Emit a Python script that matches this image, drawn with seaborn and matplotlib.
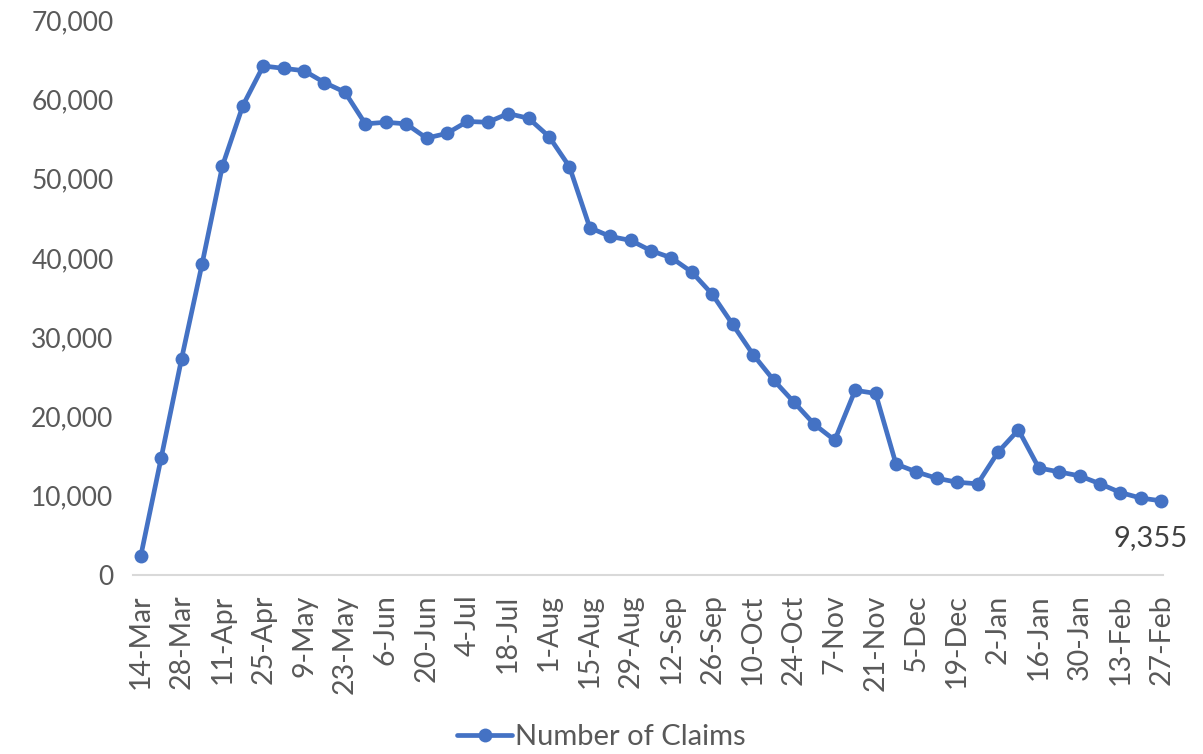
import matplotlib
matplotlib.use("Agg")
import matplotlib.pyplot as plt
import seaborn as sns
import pandas as pd
from matplotlib.ticker import FuncFormatter

claims = [2420, 14800, 27300, 39200, 51600, 59200, 64200, 63900, 63600, 62100,
          60900, 56900, 57100, 56900, 55100, 55700, 57200, 57100, 58200, 57600,
          55300, 51500, 43800, 42700, 42200, 40900, 40000, 38200, 35400, 31600,
          27800, 24600, 21800, 19000, 17000, 23300, 22900, 14000, 13000, 12200,
          11700, 11500, 15500, 18300, 13500, 13000, 12500, 11500, 10400, 9700,
          9355]
tick_labels = ["14-Mar", "28-Mar", "11-Apr", "25-Apr", "9-May", "23-May", "6-Jun",
               "20-Jun", "4-Jul", "18-Jul", "1-Aug", "15-Aug", "29-Aug", "12-Sep",
               "26-Sep", "10-Oct", "24-Oct", "7-Nov", "21-Nov", "5-Dec", "19-Dec",
               "2-Jan", "16-Jan", "30-Jan", "13-Feb", "27-Feb"]
series_name = "Number of Claims"
last_label = "9,355"

df = pd.DataFrame({"week": range(len(claims)), "claims": claims})

sns.set_theme(style="white")
plt.rcParams['font.family'] = ['Lato', 'DejaVu Sans']

fig = plt.figure(figsize=(12.03, 7.54), dpi=100)
ax = fig.add_axes([0.1106, 0.2374, 0.8561, 0.7361])

blue = "#4472C4"
sns.lineplot(data=df, x="week", y="claims", ax=ax, color=blue, linewidth=3.4,
             marker="o", markersize=10, markeredgewidth=0, label=series_name,
             legend=False)
for ln in ax.lines:
    ln.set_clip_on(False)

ax.set_ylim(0, 70000)
ax.set_xlim(-0.38, 50.08)
ax.set_yticks(range(0, 70001, 10000))
ax.yaxis.set_major_formatter(FuncFormatter(lambda v, p: f"{int(v):,}"))
ax.set_xticks(range(0, len(claims), 2))
ax.set_xticklabels(tick_labels, rotation=90)
ax.tick_params(axis="both", colors="#595959", length=0)
ax.tick_params(axis="y", labelsize=19, pad=14)
ax.tick_params(axis="x", labelsize=20.5, pad=14)
ax.set_xlabel("")
ax.set_ylabel("")
for s in ["top", "right", "left"]:
    ax.spines[s].set_visible(False)
ax.spines["bottom"].set_color("#D9D9D9")
ax.spines["bottom"].set_linewidth(1.5)

ax.annotate(last_label, xy=(len(claims) - 1, claims[-1]), xytext=(-8, -27),
            textcoords="offset points", ha="center", va="center",
            fontsize=21, color="#404040")

handles, labels = ax.get_legend_handles_labels()
fig.legend(handles, labels, loc="center", bbox_to_anchor=(0.5, 0.022),
           frameon=False, fontsize=21, labelcolor="#595959",
           handlelength=1.9, handletextpad=0.1)

fig.savefig("out.png", dpi=100)
